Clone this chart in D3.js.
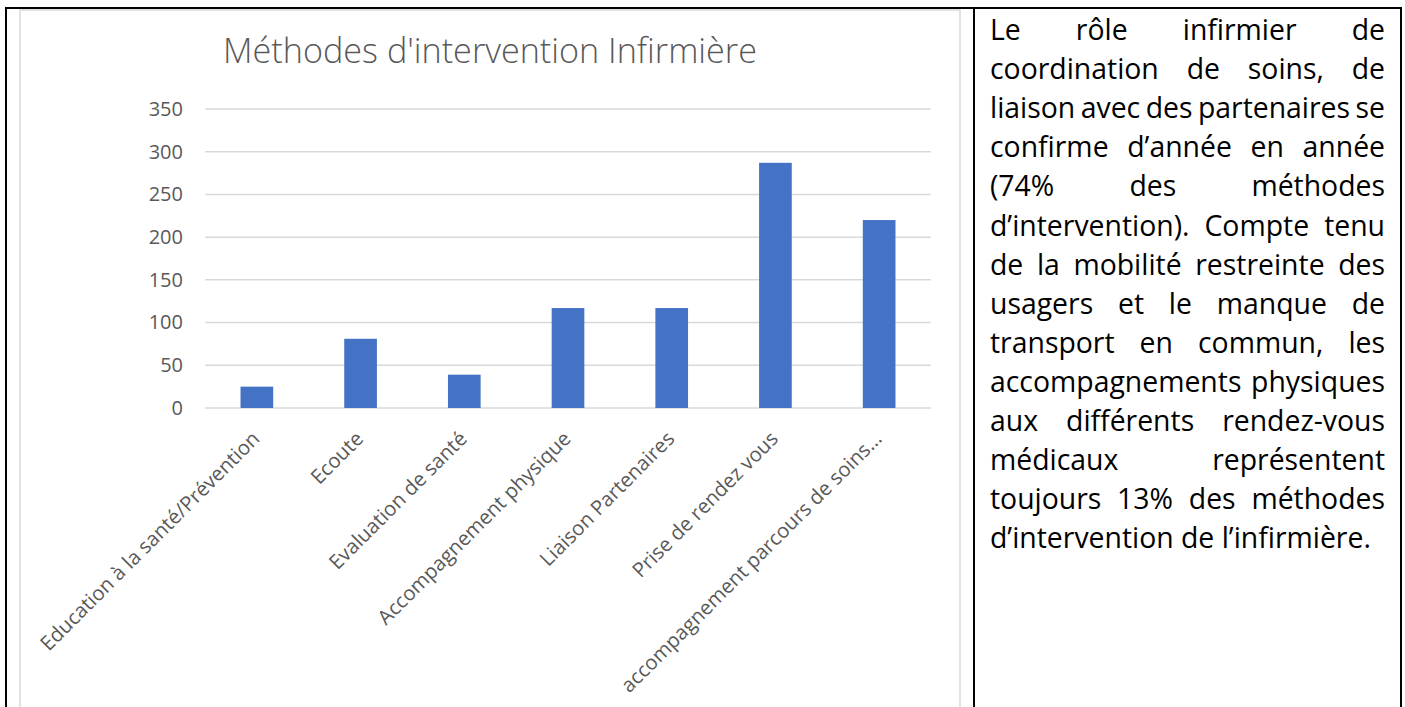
<!DOCTYPE html>
<meta charset="utf-8">
<style>
body { margin: 0; background: #fff; }
text { font-family: "Open Sans", "Noto Sans", sans-serif; }
.grid line { stroke: #d9d9d9; stroke-width: 1.5px; }
</style>
<body>
<script src="https://d3js.org/d3.v7.min.js"></script>
<script>

// data
var categories = ["Education à la santé/Prévention", "Ecoute", "Evaluation de santé",
  "Accompagnement physique", "Liaison Partenaires", "Prise de rendez vous",
  "accompagnement parcours de soins..."];
var values = [25, 81, 39, 117, 117, 287, 220];
var yTicks = [0, 50, 100, 150, 200, 250, 300, 350];

var title = "Méthodes d'intervention Infirmière";

// paragraph in the right-hand cell, one entry per printed line
var paragraph = [
  "Le rôle infirmier de",
  "coordination de soins, de",
  "liaison avec des partenaires se",
  "confirme d’année en année",
  "(74% des méthodes",
  "d’intervention). Compte tenu",
  "de la mobilité restreinte des",
  "usagers et le manque de",
  "transport en commun, les",
  "accompagnements physiques",
  "aux différents rendez-vous",
  "médicaux représentent",
  "toujours 13% des méthodes",
  "d’intervention de l’infirmière."
];

var W = 1405, H = 707;
var plot = {left: 205, right: 931, top: 109, bottom: 408};

var svg = d3.select("body").append("svg")
    .attr("width", W)
    .attr("height", H);

// table borders
var border = svg.append("g").attr("stroke", "#000").attr("stroke-width", 2);
border.append("line").attr("x1", 5).attr("x2", 1402).attr("y1", 8).attr("y2", 8);
border.append("line").attr("x1", 6).attr("x2", 6).attr("y1", 8).attr("y2", H);
border.append("line").attr("x1", 974).attr("x2", 974).attr("y1", 8).attr("y2", H);
border.append("line").attr("x1", 1401).attr("x2", 1401).attr("y1", 8).attr("y2", H);

// chart frame
svg.append("rect")
    .attr("x", 20).attr("y", 10)
    .attr("width", 940).attr("height", H)
    .attr("fill", "#fff")
    .attr("stroke", "#d9d9d9")
    .attr("stroke-width", 1.5);

// title, sized so it spans the same width as in the original
var titleText = svg.append("text")
    .attr("x", 490).attr("y", 63)
    .attr("text-anchor", "middle")
    .style("font-size", "30px")
    .style("font-weight", 300)
    .style("fill", "#595959")
    .text(title);
var tw = titleText.node().getComputedTextLength();
titleText.style("font-size", (30 * 534 / tw) + "px");

var x = d3.scaleBand()
    .domain(categories)
    .range([plot.left, plot.right])
    .paddingInner(0.685)
    .paddingOuter(0.3425);

var y = d3.scaleLinear()
    .domain([0, 350])
    .range([plot.bottom, plot.top]);

// gridlines
svg.append("g")
    .attr("class", "grid")
    .selectAll("line")
    .data(yTicks)
    .enter().append("line")
    .attr("x1", plot.left).attr("x2", plot.right)
    .attr("y1", function(d) { return y(d); })
    .attr("y2", function(d) { return y(d); });

// y axis labels
var yAxis = svg.append("g")
    .attr("transform", "translate(" + (plot.left - 22) + ",0)")
    .call(d3.axisLeft(y).tickValues(yTicks).tickSize(0).tickPadding(0));
yAxis.select(".domain").remove();
yAxis.selectAll("text")
    .style("font-family", "'Open Sans', sans-serif")
    .style("font-size", "20px")
    .style("fill", "#595959");

// bars
svg.selectAll(".bar")
    .data(values)
    .enter().append("rect")
    .attr("class", "bar")
    .attr("x", function(d, i) { return x(categories[i]); })
    .attr("width", x.bandwidth())
    .attr("y", function(d) { return y(d); })
    .attr("height", function(d) { return y(0) - y(d); })
    .attr("fill", "#4472c4");

// category labels, rotated, text ends just under each bar
svg.selectAll(".cat")
    .data(categories)
    .enter().append("text")
    .attr("class", "cat")
    .attr("transform", function(d) {
      return "translate(" + (x(d) + x.bandwidth() / 2 + 4) + "," + (plot.bottom + 32) + ") rotate(-45)";
    })
    .attr("text-anchor", "end")
    .style("font-size", "20.3px")
    .style("fill", "#595959")
    .text(function(d) { return d; });

// justified paragraph
var textLeft = 990, textRight = 1385, firstBase = 40, lineH = 39.1;
var para = svg.append("g").style("font-size", "20px").style("fill", "#000");

var probe = para.append("text");
function measure(s) {
  probe.text(s);
  return probe.node().getComputedTextLength();
}
// size the font so the closing (unjustified) line runs as far as in the original
var lastW = measure(paragraph[paragraph.length - 1]);
para.style("font-size", (20 * 381 / lastW) + "px");
var spaceW = measure("a a") - measure("aa");

paragraph.forEach(function(line, i) {
  var words = line.split(" ");
  var widths = words.map(measure);
  var total = d3.sum(widths);
  var last = i === paragraph.length - 1;
  var gap = (last || words.length < 2) ? spaceW : (textRight - textLeft - total) / (words.length - 1);
  var t = para.append("text").attr("y", firstBase + i * lineH);
  var cx = textLeft;
  words.forEach(function(w, j) {
    t.append("tspan").attr("x", cx).text(w);
    cx += widths[j] + gap;
  });
});
probe.remove();

</script>
</body>
